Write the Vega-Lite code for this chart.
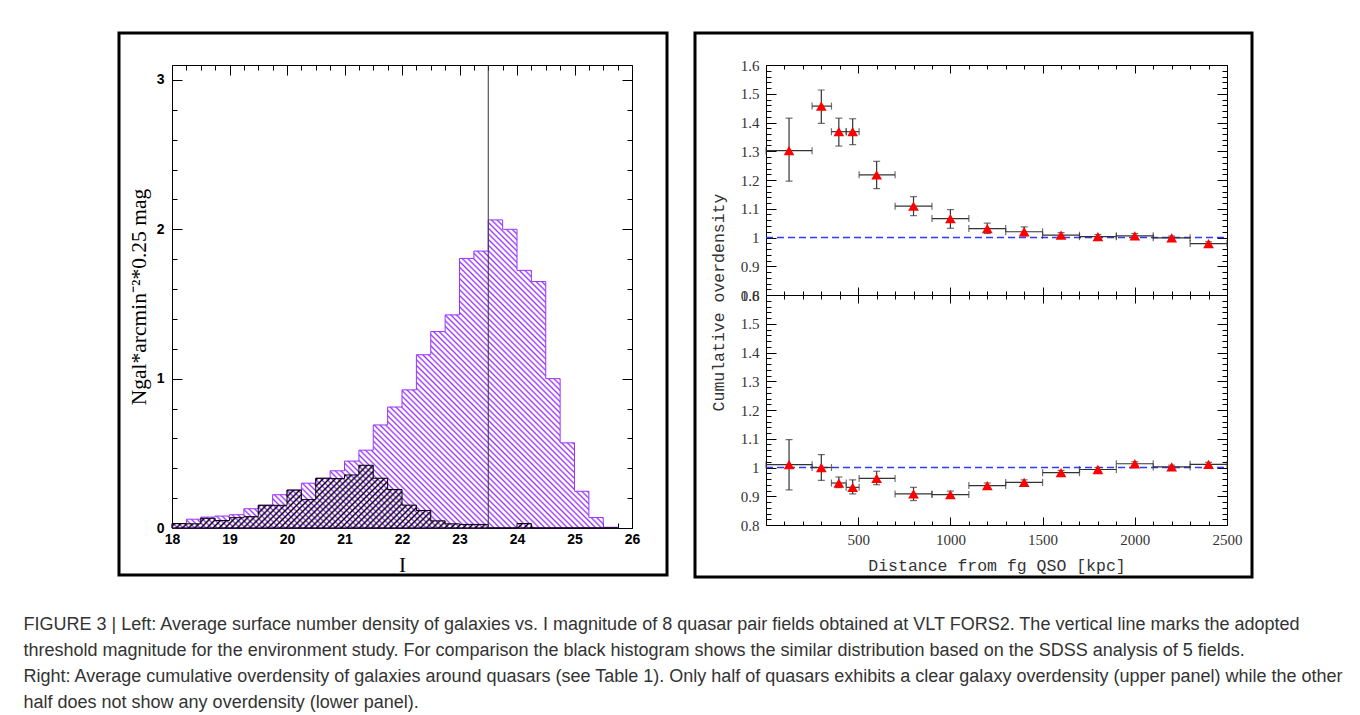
{
  "$schema": "https://vega.github.io/schema/vega-lite/v6.json",
  "background": "white",
  "padding": {"left": 23, "top": 31, "right": 5, "bottom": 5},
  "spacing": 24,
  "datasets": {
    "hist": [
      {"I": 18, "vlt": 0.028, "sdss": 0.03},
      {"I": 18.25, "vlt": 0.059, "sdss": 0.028},
      {"I": 18.5, "vlt": 0.073, "sdss": 0.065},
      {"I": 18.75, "vlt": 0.08, "sdss": 0.05},
      {"I": 19, "vlt": 0.089, "sdss": 0.069},
      {"I": 19.25, "vlt": 0.129, "sdss": 0.076},
      {"I": 19.5, "vlt": 0.153, "sdss": 0.152},
      {"I": 19.75, "vlt": 0.223, "sdss": 0.152},
      {"I": 20, "vlt": 0.254, "sdss": 0.254},
      {"I": 20.25, "vlt": 0.3, "sdss": 0.19},
      {"I": 20.5, "vlt": 0.333, "sdss": 0.333},
      {"I": 20.75, "vlt": 0.383, "sdss": 0.331},
      {"I": 21, "vlt": 0.448, "sdss": 0.355},
      {"I": 21.25, "vlt": 0.521, "sdss": 0.42},
      {"I": 21.5, "vlt": 0.69, "sdss": 0.333},
      {"I": 21.75, "vlt": 0.81, "sdss": 0.258},
      {"I": 22, "vlt": 0.925, "sdss": 0.153},
      {"I": 22.25, "vlt": 1.16, "sdss": 0.117},
      {"I": 22.5, "vlt": 1.315, "sdss": 0.048},
      {"I": 22.75, "vlt": 1.427, "sdss": 0.028},
      {"I": 23, "vlt": 1.805, "sdss": 0.024},
      {"I": 23.25, "vlt": 1.854, "sdss": 0.024},
      {"I": 23.5, "vlt": 2.063, "sdss": 0},
      {"I": 23.75, "vlt": 2.0, "sdss": 0},
      {"I": 24, "vlt": 1.725, "sdss": 0.03},
      {"I": 24.25, "vlt": 1.65, "sdss": 0},
      {"I": 24.5, "vlt": 1.0, "sdss": 0},
      {"I": 24.75, "vlt": 0.57, "sdss": 0},
      {"I": 25, "vlt": 0.246, "sdss": 0},
      {"I": 25.25, "vlt": 0.07, "sdss": 0},
      {"I": 25.5, "vlt": 0.005, "sdss": 0},
      {"I": 25.75, "vlt": 0.005, "sdss": 0}
    ],
    "upper": [
      {"x": 125, "xlo": 0, "xhi": 250, "y": 1.302, "ylo": 1.196, "yhi": 1.415},
      {"x": 300, "xlo": 250, "xhi": 355, "y": 1.457, "ylo": 1.397, "yhi": 1.513},
      {"x": 395, "xlo": 355, "xhi": 435, "y": 1.368, "ylo": 1.318, "yhi": 1.415},
      {"x": 470, "xlo": 435, "xhi": 505, "y": 1.368, "ylo": 1.323, "yhi": 1.413},
      {"x": 600, "xlo": 505, "xhi": 700, "y": 1.218, "ylo": 1.17, "yhi": 1.265},
      {"x": 800, "xlo": 700, "xhi": 900, "y": 1.109, "ylo": 1.076, "yhi": 1.142},
      {"x": 1000, "xlo": 900, "xhi": 1100, "y": 1.066, "ylo": 1.032, "yhi": 1.097},
      {"x": 1200, "xlo": 1100, "xhi": 1300, "y": 1.031, "ylo": 1.014, "yhi": 1.05},
      {"x": 1400, "xlo": 1300, "xhi": 1500, "y": 1.02, "ylo": 1.006, "yhi": 1.037},
      {"x": 1600, "xlo": 1500, "xhi": 1700, "y": 1.008, "ylo": 0.999, "yhi": 1.017},
      {"x": 1800, "xlo": 1700, "xhi": 1900, "y": 1.003, "ylo": 0.996, "yhi": 1.01},
      {"x": 2000, "xlo": 1900, "xhi": 2100, "y": 1.006, "ylo": 0.998, "yhi": 1.014},
      {"x": 2200, "xlo": 2100, "xhi": 2300, "y": 0.999, "ylo": 0.993, "yhi": 1.005},
      {"x": 2400, "xlo": 2300, "xhi": 2500, "y": 0.979, "ylo": 0.973, "yhi": 0.985}
    ],
    "lower": [
      {"x": 125, "xlo": 0, "xhi": 250, "y": 1.01, "ylo": 0.922, "yhi": 1.097},
      {"x": 300, "xlo": 250, "xhi": 355, "y": 1.0, "ylo": 0.955, "yhi": 1.045},
      {"x": 395, "xlo": 355, "xhi": 435, "y": 0.946, "ylo": 0.93, "yhi": 0.967},
      {"x": 470, "xlo": 435, "xhi": 505, "y": 0.931, "ylo": 0.908, "yhi": 0.957},
      {"x": 600, "xlo": 505, "xhi": 700, "y": 0.962, "ylo": 0.94, "yhi": 0.987},
      {"x": 800, "xlo": 700, "xhi": 900, "y": 0.908, "ylo": 0.885, "yhi": 0.931},
      {"x": 1000, "xlo": 900, "xhi": 1100, "y": 0.906, "ylo": 0.896, "yhi": 0.918},
      {"x": 1200, "xlo": 1100, "xhi": 1300, "y": 0.937, "ylo": 0.928, "yhi": 0.946},
      {"x": 1400, "xlo": 1300, "xhi": 1500, "y": 0.948, "ylo": 0.94, "yhi": 0.957},
      {"x": 1600, "xlo": 1500, "xhi": 1700, "y": 0.982, "ylo": 0.974, "yhi": 0.99},
      {"x": 1800, "xlo": 1700, "xhi": 1900, "y": 0.993, "ylo": 0.986, "yhi": 1.0},
      {"x": 2000, "xlo": 1900, "xhi": 2100, "y": 1.013, "ylo": 1.006, "yhi": 1.02},
      {"x": 2200, "xlo": 2100, "xhi": 2300, "y": 1.002, "ylo": 0.996, "yhi": 1.008},
      {"x": 2400, "xlo": 2300, "xhi": 2500, "y": 1.011, "ylo": 1.004, "yhi": 1.018}
    ]
  },
  "title": {
    "text": [
      "FIGURE 3 | Left: Average surface number density of galaxies vs. I magnitude of 8 quasar pair fields obtained at VLT FORS2. The vertical line marks the adopted",
      "threshold magnitude for the environment study. For comparison the black histogram shows the similar distribution based on the SDSS analysis of 5 fields.",
      "Right: Average cumulative overdensity of galaxies around quasars (see Table 1). Only half of quasars exhibits a clear galaxy overdensity (upper panel) while the other",
      "half does not show any overdensity (lower panel)."
    ],
    "orient": "bottom",
    "anchor": "start",
    "dx": -94,
    "offset": 37,
    "font": "Liberation Sans",
    "fontSize": 18,
    "fontWeight": "normal",
    "color": "#333333",
    "lineHeight": 26,
    "baseline": "top"
  },
  "hconcat": [
    {
      "width": 548,
      "height": 542,
      "data": {"name": "hist"},
      "resolve": {"axis": {"x": "independent", "y": "independent"}},
      "layer": [
        {
          "mark": {
            "type": "area", "interpolate": "step-after", "stroke": "#9933ff", "strokeWidth": 1,
            "fill": {
              "gradient": "linear", "x1": 0, "y1": 1, "x2": 1.1445, "y2": 0.209,
              "stops": [
                {"offset":0,"color":"#93f"},{"offset":0.0025,"color":"#fff"},{"offset":0.005,"color":"#fff"},{"offset":0.0075,"color":"#93f"},{"offset":0.01,"color":"#fff"},{"offset":0.0125,"color":"#fff"},{"offset":0.015,"color":"#93f"},{"offset":0.0175,"color":"#fff"},{"offset":0.02,"color":"#fff"},{"offset":0.0225,"color":"#93f"},{"offset":0.025,"color":"#fff"},{"offset":0.0275,"color":"#fff"},
                {"offset":0.03,"color":"#93f"},{"offset":0.0325,"color":"#fff"},{"offset":0.035,"color":"#fff"},{"offset":0.0375,"color":"#93f"},{"offset":0.04,"color":"#fff"},{"offset":0.0425,"color":"#fff"},{"offset":0.045,"color":"#93f"},{"offset":0.0475,"color":"#fff"},{"offset":0.05,"color":"#fff"},{"offset":0.0525,"color":"#93f"},{"offset":0.055,"color":"#fff"},{"offset":0.0575,"color":"#fff"},
                {"offset":0.06,"color":"#93f"},{"offset":0.0625,"color":"#fff"},{"offset":0.065,"color":"#fff"},{"offset":0.0675,"color":"#93f"},{"offset":0.07,"color":"#fff"},{"offset":0.0725,"color":"#fff"},{"offset":0.075,"color":"#93f"},{"offset":0.0775,"color":"#fff"},{"offset":0.08,"color":"#fff"},{"offset":0.0825,"color":"#93f"},{"offset":0.085,"color":"#fff"},{"offset":0.0875,"color":"#fff"},
                {"offset":0.09,"color":"#93f"},{"offset":0.0925,"color":"#fff"},{"offset":0.095,"color":"#fff"},{"offset":0.0975,"color":"#93f"},{"offset":0.1,"color":"#fff"},{"offset":0.1025,"color":"#fff"},{"offset":0.105,"color":"#93f"},{"offset":0.1075,"color":"#fff"},{"offset":0.11,"color":"#fff"},{"offset":0.1125,"color":"#93f"},{"offset":0.115,"color":"#fff"},{"offset":0.1175,"color":"#fff"},
                {"offset":0.12,"color":"#93f"},{"offset":0.1225,"color":"#fff"},{"offset":0.125,"color":"#fff"},{"offset":0.1275,"color":"#93f"},{"offset":0.13,"color":"#fff"},{"offset":0.1325,"color":"#fff"},{"offset":0.135,"color":"#93f"},{"offset":0.1375,"color":"#fff"},{"offset":0.14,"color":"#fff"},{"offset":0.1425,"color":"#93f"},{"offset":0.145,"color":"#fff"},{"offset":0.1475,"color":"#fff"},
                {"offset":0.15,"color":"#93f"},{"offset":0.1525,"color":"#fff"},{"offset":0.155,"color":"#fff"},{"offset":0.1575,"color":"#93f"},{"offset":0.16,"color":"#fff"},{"offset":0.1625,"color":"#fff"},{"offset":0.165,"color":"#93f"},{"offset":0.1675,"color":"#fff"},{"offset":0.17,"color":"#fff"},{"offset":0.1725,"color":"#93f"},{"offset":0.175,"color":"#fff"},{"offset":0.1775,"color":"#fff"},
                {"offset":0.18,"color":"#93f"},{"offset":0.1825,"color":"#fff"},{"offset":0.185,"color":"#fff"},{"offset":0.1875,"color":"#93f"},{"offset":0.19,"color":"#fff"},{"offset":0.1925,"color":"#fff"},{"offset":0.195,"color":"#93f"},{"offset":0.1975,"color":"#fff"},{"offset":0.2,"color":"#fff"},{"offset":0.2025,"color":"#93f"},{"offset":0.205,"color":"#fff"},{"offset":0.2075,"color":"#fff"},
                {"offset":0.21,"color":"#93f"},{"offset":0.2125,"color":"#fff"},{"offset":0.215,"color":"#fff"},{"offset":0.2175,"color":"#93f"},{"offset":0.22,"color":"#fff"},{"offset":0.2225,"color":"#fff"},{"offset":0.225,"color":"#93f"},{"offset":0.2275,"color":"#fff"},{"offset":0.23,"color":"#fff"},{"offset":0.2325,"color":"#93f"},{"offset":0.235,"color":"#fff"},{"offset":0.2375,"color":"#fff"},
                {"offset":0.24,"color":"#93f"},{"offset":0.2425,"color":"#fff"},{"offset":0.245,"color":"#fff"},{"offset":0.2475,"color":"#93f"},{"offset":0.25,"color":"#fff"},{"offset":0.2525,"color":"#fff"},{"offset":0.255,"color":"#93f"},{"offset":0.2575,"color":"#fff"},{"offset":0.26,"color":"#fff"},{"offset":0.2625,"color":"#93f"},{"offset":0.265,"color":"#fff"},{"offset":0.2675,"color":"#fff"},
                {"offset":0.27,"color":"#93f"},{"offset":0.2725,"color":"#fff"},{"offset":0.275,"color":"#fff"},{"offset":0.2775,"color":"#93f"},{"offset":0.28,"color":"#fff"},{"offset":0.2825,"color":"#fff"},{"offset":0.285,"color":"#93f"},{"offset":0.2875,"color":"#fff"},{"offset":0.29,"color":"#fff"},{"offset":0.2925,"color":"#93f"},{"offset":0.295,"color":"#fff"},{"offset":0.2975,"color":"#fff"},
                {"offset":0.3,"color":"#93f"},{"offset":0.3025,"color":"#fff"},{"offset":0.305,"color":"#fff"},{"offset":0.3075,"color":"#93f"},{"offset":0.31,"color":"#fff"},{"offset":0.3125,"color":"#fff"},{"offset":0.315,"color":"#93f"},{"offset":0.3175,"color":"#fff"},{"offset":0.32,"color":"#fff"},{"offset":0.3225,"color":"#93f"},{"offset":0.325,"color":"#fff"},{"offset":0.3275,"color":"#fff"},
                {"offset":0.33,"color":"#93f"},{"offset":0.3325,"color":"#fff"},{"offset":0.335,"color":"#fff"},{"offset":0.3375,"color":"#93f"},{"offset":0.34,"color":"#fff"},{"offset":0.3425,"color":"#fff"},{"offset":0.345,"color":"#93f"},{"offset":0.3475,"color":"#fff"},{"offset":0.35,"color":"#fff"},{"offset":0.3525,"color":"#93f"},{"offset":0.355,"color":"#fff"},{"offset":0.3575,"color":"#fff"},
                {"offset":0.36,"color":"#93f"},{"offset":0.3625,"color":"#fff"},{"offset":0.365,"color":"#fff"},{"offset":0.3675,"color":"#93f"},{"offset":0.37,"color":"#fff"},{"offset":0.3725,"color":"#fff"},{"offset":0.375,"color":"#93f"},{"offset":0.3775,"color":"#fff"},{"offset":0.38,"color":"#fff"},{"offset":0.3825,"color":"#93f"},{"offset":0.385,"color":"#fff"},{"offset":0.3875,"color":"#fff"},
                {"offset":0.39,"color":"#93f"},{"offset":0.3925,"color":"#fff"},{"offset":0.395,"color":"#fff"},{"offset":0.3975,"color":"#93f"},{"offset":0.4,"color":"#fff"},{"offset":0.4025,"color":"#fff"},{"offset":0.405,"color":"#93f"},{"offset":0.4075,"color":"#fff"},{"offset":0.41,"color":"#fff"},{"offset":0.4125,"color":"#93f"},{"offset":0.415,"color":"#fff"},{"offset":0.4175,"color":"#fff"},
                {"offset":0.42,"color":"#93f"},{"offset":0.4225,"color":"#fff"},{"offset":0.425,"color":"#fff"},{"offset":0.4275,"color":"#93f"},{"offset":0.43,"color":"#fff"},{"offset":0.4325,"color":"#fff"},{"offset":0.435,"color":"#93f"},{"offset":0.4375,"color":"#fff"},{"offset":0.44,"color":"#fff"},{"offset":0.4425,"color":"#93f"},{"offset":0.445,"color":"#fff"},{"offset":0.4475,"color":"#fff"},
                {"offset":0.45,"color":"#93f"},{"offset":0.4525,"color":"#fff"},{"offset":0.455,"color":"#fff"},{"offset":0.4575,"color":"#93f"},{"offset":0.46,"color":"#fff"},{"offset":0.4625,"color":"#fff"},{"offset":0.465,"color":"#93f"},{"offset":0.4675,"color":"#fff"},{"offset":0.47,"color":"#fff"},{"offset":0.4725,"color":"#93f"},{"offset":0.475,"color":"#fff"},{"offset":0.4775,"color":"#fff"},
                {"offset":0.48,"color":"#93f"},{"offset":0.4825,"color":"#fff"},{"offset":0.485,"color":"#fff"},{"offset":0.4875,"color":"#93f"},{"offset":0.49,"color":"#fff"},{"offset":0.4925,"color":"#fff"},{"offset":0.495,"color":"#93f"},{"offset":0.4975,"color":"#fff"},{"offset":0.5,"color":"#fff"},{"offset":0.5025,"color":"#93f"},{"offset":0.505,"color":"#fff"},{"offset":0.5075,"color":"#fff"},
                {"offset":0.51,"color":"#93f"},{"offset":0.5125,"color":"#fff"},{"offset":0.515,"color":"#fff"},{"offset":0.5175,"color":"#93f"},{"offset":0.52,"color":"#fff"},{"offset":0.5225,"color":"#fff"},{"offset":0.525,"color":"#93f"},{"offset":0.5275,"color":"#fff"},{"offset":0.53,"color":"#fff"},{"offset":0.5325,"color":"#93f"},{"offset":0.535,"color":"#fff"},{"offset":0.5375,"color":"#fff"},
                {"offset":0.54,"color":"#93f"},{"offset":0.5425,"color":"#fff"},{"offset":0.545,"color":"#fff"},{"offset":0.5475,"color":"#93f"},{"offset":0.55,"color":"#fff"},{"offset":0.5525,"color":"#fff"},{"offset":0.555,"color":"#93f"},{"offset":0.5575,"color":"#fff"},{"offset":0.56,"color":"#fff"},{"offset":0.5625,"color":"#93f"},{"offset":0.565,"color":"#fff"},{"offset":0.5675,"color":"#fff"},
                {"offset":0.57,"color":"#93f"},{"offset":0.5725,"color":"#fff"},{"offset":0.575,"color":"#fff"},{"offset":0.5775,"color":"#93f"},{"offset":0.58,"color":"#fff"},{"offset":0.5825,"color":"#fff"},{"offset":0.585,"color":"#93f"},{"offset":0.5875,"color":"#fff"},{"offset":0.59,"color":"#fff"},{"offset":0.5925,"color":"#93f"},{"offset":0.595,"color":"#fff"},{"offset":0.5975,"color":"#fff"},
                {"offset":0.6,"color":"#93f"},{"offset":0.6025,"color":"#fff"},{"offset":0.605,"color":"#fff"},{"offset":0.6075,"color":"#93f"},{"offset":0.61,"color":"#fff"},{"offset":0.6125,"color":"#fff"},{"offset":0.615,"color":"#93f"},{"offset":0.6175,"color":"#fff"},{"offset":0.62,"color":"#fff"},{"offset":0.6225,"color":"#93f"},{"offset":0.625,"color":"#fff"},{"offset":0.6275,"color":"#fff"},
                {"offset":0.63,"color":"#93f"},{"offset":0.6325,"color":"#fff"},{"offset":0.635,"color":"#fff"},{"offset":0.6375,"color":"#93f"},{"offset":0.64,"color":"#fff"},{"offset":0.6425,"color":"#fff"},{"offset":0.645,"color":"#93f"},{"offset":0.6475,"color":"#fff"},{"offset":0.65,"color":"#fff"},{"offset":0.6525,"color":"#93f"},{"offset":0.655,"color":"#fff"},{"offset":0.6575,"color":"#fff"},
                {"offset":0.66,"color":"#93f"},{"offset":0.6625,"color":"#fff"},{"offset":0.665,"color":"#fff"},{"offset":0.6675,"color":"#93f"},{"offset":0.67,"color":"#fff"},{"offset":0.6725,"color":"#fff"},{"offset":0.675,"color":"#93f"},{"offset":0.6775,"color":"#fff"},{"offset":0.68,"color":"#fff"},{"offset":0.6825,"color":"#93f"},{"offset":0.685,"color":"#fff"},{"offset":0.6875,"color":"#fff"},
                {"offset":0.69,"color":"#93f"},{"offset":0.6925,"color":"#fff"},{"offset":0.695,"color":"#fff"},{"offset":0.6975,"color":"#93f"},{"offset":0.7,"color":"#fff"},{"offset":0.7025,"color":"#fff"},{"offset":0.705,"color":"#93f"},{"offset":0.7075,"color":"#fff"},{"offset":0.71,"color":"#fff"},{"offset":0.7125,"color":"#93f"},{"offset":0.715,"color":"#fff"},{"offset":0.7175,"color":"#fff"},
                {"offset":0.72,"color":"#93f"},{"offset":0.7225,"color":"#fff"},{"offset":0.725,"color":"#fff"},{"offset":0.7275,"color":"#93f"},{"offset":0.73,"color":"#fff"},{"offset":0.7325,"color":"#fff"},{"offset":0.735,"color":"#93f"},{"offset":0.7375,"color":"#fff"},{"offset":0.74,"color":"#fff"},{"offset":0.7425,"color":"#93f"},{"offset":0.745,"color":"#fff"},{"offset":0.7475,"color":"#fff"},
                {"offset":0.75,"color":"#93f"},{"offset":0.7525,"color":"#fff"},{"offset":0.755,"color":"#fff"},{"offset":0.7575,"color":"#93f"},{"offset":0.76,"color":"#fff"},{"offset":0.7625,"color":"#fff"},{"offset":0.765,"color":"#93f"},{"offset":0.7675,"color":"#fff"},{"offset":0.77,"color":"#fff"},{"offset":0.7725,"color":"#93f"},{"offset":0.775,"color":"#fff"},{"offset":0.7775,"color":"#fff"},
                {"offset":0.78,"color":"#93f"},{"offset":0.7825,"color":"#fff"},{"offset":0.785,"color":"#fff"},{"offset":0.7875,"color":"#93f"},{"offset":0.79,"color":"#fff"},{"offset":0.7925,"color":"#fff"},{"offset":0.795,"color":"#93f"},{"offset":0.7975,"color":"#fff"},{"offset":0.8,"color":"#fff"},{"offset":0.8025,"color":"#93f"},{"offset":0.805,"color":"#fff"},{"offset":0.8075,"color":"#fff"},
                {"offset":0.81,"color":"#93f"},{"offset":0.8125,"color":"#fff"},{"offset":0.815,"color":"#fff"},{"offset":0.8175,"color":"#93f"},{"offset":0.82,"color":"#fff"},{"offset":0.8225,"color":"#fff"},{"offset":0.825,"color":"#93f"},{"offset":0.8275,"color":"#fff"},{"offset":0.83,"color":"#fff"},{"offset":0.8325,"color":"#93f"},{"offset":0.835,"color":"#fff"},{"offset":0.8375,"color":"#fff"},
                {"offset":0.84,"color":"#93f"},{"offset":0.8425,"color":"#fff"},{"offset":0.845,"color":"#fff"},{"offset":0.8475,"color":"#93f"},{"offset":0.85,"color":"#fff"},{"offset":0.8525,"color":"#fff"},{"offset":0.855,"color":"#93f"},{"offset":0.8575,"color":"#fff"},{"offset":0.86,"color":"#fff"},{"offset":0.8625,"color":"#93f"},{"offset":0.865,"color":"#fff"},{"offset":0.8675,"color":"#fff"},
                {"offset":0.87,"color":"#93f"},{"offset":0.8725,"color":"#fff"},{"offset":0.875,"color":"#fff"},{"offset":0.8775,"color":"#93f"},{"offset":0.88,"color":"#fff"},{"offset":0.8825,"color":"#fff"},{"offset":0.885,"color":"#93f"},{"offset":0.8875,"color":"#fff"},{"offset":0.89,"color":"#fff"},{"offset":0.8925,"color":"#93f"},{"offset":0.895,"color":"#fff"},{"offset":0.8975,"color":"#fff"},
                {"offset":0.9,"color":"#93f"},{"offset":0.9025,"color":"#fff"},{"offset":0.905,"color":"#fff"},{"offset":0.9075,"color":"#93f"},{"offset":0.91,"color":"#fff"},{"offset":0.9125,"color":"#fff"},{"offset":0.915,"color":"#93f"},{"offset":0.9175,"color":"#fff"},{"offset":0.92,"color":"#fff"},{"offset":0.9225,"color":"#93f"},{"offset":0.925,"color":"#fff"},{"offset":0.9275,"color":"#fff"},
                {"offset":0.93,"color":"#93f"},{"offset":0.9325,"color":"#fff"},{"offset":0.935,"color":"#fff"},{"offset":0.9375,"color":"#93f"},{"offset":0.94,"color":"#fff"},{"offset":0.9425,"color":"#fff"},{"offset":0.945,"color":"#93f"},{"offset":0.9475,"color":"#fff"},{"offset":0.95,"color":"#fff"},{"offset":0.9525,"color":"#93f"},{"offset":0.955,"color":"#fff"},{"offset":0.9575,"color":"#fff"},
                {"offset":0.96,"color":"#93f"},{"offset":0.9625,"color":"#fff"},{"offset":0.965,"color":"#fff"},{"offset":0.9675,"color":"#93f"},{"offset":0.97,"color":"#fff"},{"offset":0.9725,"color":"#fff"},{"offset":0.975,"color":"#93f"},{"offset":0.9775,"color":"#fff"},{"offset":0.98,"color":"#fff"},{"offset":0.9825,"color":"#93f"},{"offset":0.985,"color":"#fff"},{"offset":0.9875,"color":"#fff"},
                {"offset":0.99,"color":"#93f"},{"offset":0.9925,"color":"#fff"},{"offset":0.995,"color":"#fff"},{"offset":0.9975,"color":"#93f"},{"offset":1,"color":"#fff"}
              ]
            }
          },
          "encoding": {
            "x": {
              "field": "I", "type": "quantitative",
              "scale": {"domain": [18, 26], "range": [53, 513], "nice": false, "zero": false},
              "axis": {
                "orient": "bottom", "offset": -47,
                "values": [18,18.25,18.5,18.75,19,19.25,19.5,19.75,20,20.25,20.5,20.75,21,21.25,21.5,21.75,22,22.25,22.5,22.75,23,23.25,23.5,23.75,24,24.25,24.5,24.75,25,25.25,25.5,25.75,26],
                "tickSize": {"condition": {"test": "datum.value % 1 === 0", "value": -10}, "value": -5},
                "labelExpr": "datum.value % 1 === 0 ? datum.value + '' : ''",
                "labelPadding": 14, "labelFont": "Liberation Sans", "labelFontWeight": "bold", "labelFontSize": 14,
                "title": "I", "titleFont": "Liberation Serif", "titleFontSize": 21, "titleFontWeight": "normal", "titlePadding": 3
              }
            },
            "y": {
              "field": "vlt", "type": "quantitative",
              "scale": {"domain": [0, 3.1], "range": [495, 32], "nice": false},
              "axis": {
                "orient": "left", "offset": -53,
                "values": [0,0.2,0.4,0.6,0.8,1,1.2,1.4,1.6,1.8,2,2.2,2.4,2.6,2.8,3],
                "tickSize": {"condition": {"test": "datum.value % 1 === 0", "value": -10}, "value": -5},
                "labelExpr": "datum.value % 1 === 0 ? datum.value + '' : ''",
                "labelPadding": 18, "labelFont": "Liberation Sans", "labelFontWeight": "bold", "labelFontSize": 14,
                "title": "Ngal*arcmin⁻²*0.25 mag", "titleFont": "Liberation Serif", "titleFontSize": 21.5, "titleFontWeight": "normal", "titlePadding": 6
              }
            }
          }
        },
        {
          "mark": {
            "type": "area", "interpolate": "step-after", "stroke": "#000000", "strokeWidth": 1,
            "fill": {
              "gradient": "linear", "x1": 0, "y1": 0, "x2": 1.1185, "y2": 0.1574,
              "stops": [
                {"offset":0,"color":"#000"},{"offset":0.004,"color":"transparent"},{"offset":0.008,"color":"transparent"},{"offset":0.012,"color":"#000"},{"offset":0.016,"color":"transparent"},{"offset":0.02,"color":"transparent"},{"offset":0.024,"color":"#000"},{"offset":0.028,"color":"transparent"},{"offset":0.032,"color":"transparent"},{"offset":0.036,"color":"#000"},{"offset":0.04,"color":"transparent"},{"offset":0.044,"color":"transparent"},
                {"offset":0.048,"color":"#000"},{"offset":0.052,"color":"transparent"},{"offset":0.056,"color":"transparent"},{"offset":0.06,"color":"#000"},{"offset":0.064,"color":"transparent"},{"offset":0.068,"color":"transparent"},{"offset":0.072,"color":"#000"},{"offset":0.076,"color":"transparent"},{"offset":0.08,"color":"transparent"},{"offset":0.084,"color":"#000"},{"offset":0.088,"color":"transparent"},{"offset":0.092,"color":"transparent"},
                {"offset":0.096,"color":"#000"},{"offset":0.1,"color":"transparent"},{"offset":0.104,"color":"transparent"},{"offset":0.108,"color":"#000"},{"offset":0.112,"color":"transparent"},{"offset":0.116,"color":"transparent"},{"offset":0.12,"color":"#000"},{"offset":0.124,"color":"transparent"},{"offset":0.128,"color":"transparent"},{"offset":0.132,"color":"#000"},{"offset":0.136,"color":"transparent"},{"offset":0.14,"color":"transparent"},
                {"offset":0.144,"color":"#000"},{"offset":0.148,"color":"transparent"},{"offset":0.152,"color":"transparent"},{"offset":0.156,"color":"#000"},{"offset":0.16,"color":"transparent"},{"offset":0.164,"color":"transparent"},{"offset":0.168,"color":"#000"},{"offset":0.172,"color":"transparent"},{"offset":0.176,"color":"transparent"},{"offset":0.18,"color":"#000"},{"offset":0.184,"color":"transparent"},{"offset":0.188,"color":"transparent"},
                {"offset":0.192,"color":"#000"},{"offset":0.196,"color":"transparent"},{"offset":0.2,"color":"transparent"},{"offset":0.204,"color":"#000"},{"offset":0.208,"color":"transparent"},{"offset":0.212,"color":"transparent"},{"offset":0.216,"color":"#000"},{"offset":0.22,"color":"transparent"},{"offset":0.224,"color":"transparent"},{"offset":0.228,"color":"#000"},{"offset":0.232,"color":"transparent"},{"offset":0.236,"color":"transparent"},
                {"offset":0.24,"color":"#000"},{"offset":0.244,"color":"transparent"},{"offset":0.248,"color":"transparent"},{"offset":0.252,"color":"#000"},{"offset":0.256,"color":"transparent"},{"offset":0.26,"color":"transparent"},{"offset":0.264,"color":"#000"},{"offset":0.268,"color":"transparent"},{"offset":0.272,"color":"transparent"},{"offset":0.276,"color":"#000"},{"offset":0.28,"color":"transparent"},{"offset":0.284,"color":"transparent"},
                {"offset":0.288,"color":"#000"},{"offset":0.292,"color":"transparent"},{"offset":0.296,"color":"transparent"},{"offset":0.3,"color":"#000"},{"offset":0.304,"color":"transparent"},{"offset":0.308,"color":"transparent"},{"offset":0.312,"color":"#000"},{"offset":0.316,"color":"transparent"},{"offset":0.32,"color":"transparent"},{"offset":0.324,"color":"#000"},{"offset":0.328,"color":"transparent"},{"offset":0.332,"color":"transparent"},
                {"offset":0.336,"color":"#000"},{"offset":0.34,"color":"transparent"},{"offset":0.344,"color":"transparent"},{"offset":0.348,"color":"#000"},{"offset":0.352,"color":"transparent"},{"offset":0.356,"color":"transparent"},{"offset":0.36,"color":"#000"},{"offset":0.364,"color":"transparent"},{"offset":0.368,"color":"transparent"},{"offset":0.372,"color":"#000"},{"offset":0.376,"color":"transparent"},{"offset":0.38,"color":"transparent"},
                {"offset":0.384,"color":"#000"},{"offset":0.388,"color":"transparent"},{"offset":0.392,"color":"transparent"},{"offset":0.396,"color":"#000"},{"offset":0.4,"color":"transparent"},{"offset":0.404,"color":"transparent"},{"offset":0.408,"color":"#000"},{"offset":0.412,"color":"transparent"},{"offset":0.416,"color":"transparent"},{"offset":0.42,"color":"#000"},{"offset":0.424,"color":"transparent"},{"offset":0.428,"color":"transparent"},
                {"offset":0.432,"color":"#000"},{"offset":0.436,"color":"transparent"},{"offset":0.44,"color":"transparent"},{"offset":0.444,"color":"#000"},{"offset":0.448,"color":"transparent"},{"offset":0.452,"color":"transparent"},{"offset":0.456,"color":"#000"},{"offset":0.46,"color":"transparent"},{"offset":0.464,"color":"transparent"},{"offset":0.468,"color":"#000"},{"offset":0.472,"color":"transparent"},{"offset":0.476,"color":"transparent"},
                {"offset":0.48,"color":"#000"},{"offset":0.484,"color":"transparent"},{"offset":0.488,"color":"transparent"},{"offset":0.492,"color":"#000"},{"offset":0.496,"color":"transparent"},{"offset":0.5,"color":"transparent"},{"offset":0.504,"color":"#000"},{"offset":0.508,"color":"transparent"},{"offset":0.512,"color":"transparent"},{"offset":0.516,"color":"#000"},{"offset":0.52,"color":"transparent"},{"offset":0.524,"color":"transparent"},
                {"offset":0.528,"color":"#000"},{"offset":0.532,"color":"transparent"},{"offset":0.536,"color":"transparent"},{"offset":0.54,"color":"#000"},{"offset":0.544,"color":"transparent"},{"offset":0.548,"color":"transparent"},{"offset":0.552,"color":"#000"},{"offset":0.556,"color":"transparent"},{"offset":0.56,"color":"transparent"},{"offset":0.564,"color":"#000"},{"offset":0.568,"color":"transparent"},{"offset":0.572,"color":"transparent"},
                {"offset":0.576,"color":"#000"},{"offset":0.58,"color":"transparent"},{"offset":0.584,"color":"transparent"},{"offset":0.588,"color":"#000"},{"offset":0.592,"color":"transparent"},{"offset":0.596,"color":"transparent"},{"offset":0.6,"color":"#000"},{"offset":0.604,"color":"transparent"},{"offset":0.608,"color":"transparent"},{"offset":0.612,"color":"#000"},{"offset":0.616,"color":"transparent"},{"offset":0.62,"color":"transparent"},
                {"offset":0.624,"color":"#000"},{"offset":0.628,"color":"transparent"},{"offset":0.632,"color":"transparent"},{"offset":0.636,"color":"#000"},{"offset":0.64,"color":"transparent"},{"offset":0.644,"color":"transparent"},{"offset":0.648,"color":"#000"},{"offset":0.652,"color":"transparent"},{"offset":0.656,"color":"transparent"},{"offset":0.66,"color":"#000"},{"offset":0.664,"color":"transparent"},{"offset":0.668,"color":"transparent"},
                {"offset":0.672,"color":"#000"},{"offset":0.676,"color":"transparent"},{"offset":0.68,"color":"transparent"},{"offset":0.684,"color":"#000"},{"offset":0.688,"color":"transparent"},{"offset":0.692,"color":"transparent"},{"offset":0.696,"color":"#000"},{"offset":0.7,"color":"transparent"},{"offset":0.704,"color":"transparent"},{"offset":0.708,"color":"#000"},{"offset":0.712,"color":"transparent"},{"offset":0.716,"color":"transparent"},
                {"offset":0.72,"color":"#000"},{"offset":0.724,"color":"transparent"},{"offset":0.728,"color":"transparent"},{"offset":0.732,"color":"#000"},{"offset":0.736,"color":"transparent"},{"offset":0.74,"color":"transparent"},{"offset":0.744,"color":"#000"},{"offset":0.748,"color":"transparent"},{"offset":0.752,"color":"transparent"},{"offset":0.756,"color":"#000"},{"offset":0.76,"color":"transparent"},{"offset":0.764,"color":"transparent"},
                {"offset":0.768,"color":"#000"},{"offset":0.772,"color":"transparent"},{"offset":0.776,"color":"transparent"},{"offset":0.78,"color":"#000"},{"offset":0.784,"color":"transparent"},{"offset":0.788,"color":"transparent"},{"offset":0.792,"color":"#000"},{"offset":0.796,"color":"transparent"},{"offset":0.8,"color":"transparent"},{"offset":0.804,"color":"#000"},{"offset":0.808,"color":"transparent"},{"offset":0.812,"color":"transparent"},
                {"offset":0.816,"color":"#000"},{"offset":0.82,"color":"transparent"},{"offset":0.824,"color":"transparent"},{"offset":0.828,"color":"#000"},{"offset":0.832,"color":"transparent"},{"offset":0.836,"color":"transparent"},{"offset":0.84,"color":"#000"},{"offset":0.844,"color":"transparent"},{"offset":0.848,"color":"transparent"},{"offset":0.852,"color":"#000"},{"offset":0.856,"color":"transparent"},{"offset":0.86,"color":"transparent"},
                {"offset":0.864,"color":"#000"},{"offset":0.868,"color":"transparent"},{"offset":0.872,"color":"transparent"},{"offset":0.876,"color":"#000"},{"offset":0.88,"color":"transparent"},{"offset":0.884,"color":"transparent"},{"offset":0.888,"color":"#000"},{"offset":0.892,"color":"transparent"},{"offset":0.896,"color":"transparent"},{"offset":0.9,"color":"#000"},{"offset":0.904,"color":"transparent"},{"offset":0.908,"color":"transparent"},
                {"offset":0.912,"color":"#000"},{"offset":0.916,"color":"transparent"},{"offset":0.92,"color":"transparent"},{"offset":0.924,"color":"#000"},{"offset":0.928,"color":"transparent"},{"offset":0.932,"color":"transparent"},{"offset":0.936,"color":"#000"},{"offset":0.94,"color":"transparent"},{"offset":0.944,"color":"transparent"},{"offset":0.948,"color":"#000"},{"offset":0.952,"color":"transparent"},{"offset":0.956,"color":"transparent"},
                {"offset":0.96,"color":"#000"},{"offset":0.964,"color":"transparent"},{"offset":0.968,"color":"transparent"},{"offset":0.972,"color":"#000"},{"offset":0.976,"color":"transparent"},{"offset":0.98,"color":"transparent"},{"offset":0.984,"color":"#000"},{"offset":0.988,"color":"transparent"},{"offset":0.992,"color":"transparent"},{"offset":0.996,"color":"#000"},{"offset":1,"color":"transparent"}
              ]
            }
          },
          "encoding": {
            "x": {
              "field": "I", "type": "quantitative",
              "axis": {
                "orient": "top", "offset": -32, "labels": false, "title": null,
                "values": [18,18.25,18.5,18.75,19,19.25,19.5,19.75,20,20.25,20.5,20.75,21,21.25,21.5,21.75,22,22.25,22.5,22.75,23,23.25,23.5,23.75,24,24.25,24.5,24.75,25,25.25,25.5,25.75,26],
                "tickSize": {"condition": {"test": "datum.value % 1 === 0", "value": -10}, "value": -5}
              }
            },
            "y": {
              "field": "sdss", "type": "quantitative",
              "axis": {
                "orient": "right", "offset": -35, "labels": false, "title": null,
                "values": [0,0.2,0.4,0.6,0.8,1,1.2,1.4,1.6,1.8,2,2.2,2.4,2.6,2.8,3],
                "tickSize": {"condition": {"test": "datum.value % 1 === 0", "value": -10}, "value": -5}
              }
            }
          }
        },
        {
          "data": {"values": [{}]},
          "mark": {"type": "rule", "stroke": "#333333", "strokeWidth": 1},
          "encoding": {
            "x": {"datum": 23.5, "type": "quantitative", "axis": null},
            "y": {"datum": 0, "type": "quantitative", "axis": null},
            "y2": {"datum": 3.1}
          }
        }
      ]
    },
    {
      "width": 557,
      "height": 544,
      "resolve": {"scale": {"y": "independent"}, "axis": {"x": "independent", "y": "independent"}},
      "layer": [
        {
          "data": {"name": "upper"},
          "resolve": {"axis": {"x": "independent", "y": "independent"}},
          "layer": [
            {
              "data": {"values": [{}]},
              "mark": {"type": "rule", "color": "#2f3bff", "stroke": "#2f3bff", "strokeDash": [7, 4], "strokeWidth": 1.3},
              "encoding": {
                "x": {
                  "datum": 0, "type": "quantitative",
                  "scale": {"domain": [0, 2500], "range": [71, 532], "nice": false, "zero": false},
                  "axis": {
                    "orient": "bottom", "offset": -282, "labels": false, "title": null,
                    "values": [0,100,200,300,400,500,600,700,800,900,1000,1100,1200,1300,1400,1500,1600,1700,1800,1900,2000,2100,2200,2300,2400,2500],
                    "tickSize": {"condition": {"test": "datum.value % 500 === 0", "value": -8}, "value": -4}
                  }
                },
                "x2": {"datum": 2500},
                "y": {
                  "datum": 1, "type": "quantitative",
                  "scale": {"domain": [0.8, 1.6], "range": [262, 32], "nice": false, "zero": false},
                  "axis": {
                    "orient": "left", "offset": -71,
                    "values": [0.8,0.82,0.84,0.86,0.88,0.9,0.92,0.94,0.96,0.98,1,1.02,1.04,1.06,1.08,1.1,1.12,1.14,1.16,1.18,1.2,1.22,1.24,1.26,1.28,1.3,1.32,1.34,1.36,1.38,1.4,1.42,1.44,1.46,1.48,1.5,1.52,1.54,1.56,1.58,1.6],
                    "tickSize": {"condition": {"test": "abs(datum.value * 10 - round(datum.value * 10)) < 0.001", "value": -10}, "value": -5},
                    "labelExpr": "abs(datum.value * 10 - round(datum.value * 10)) < 0.001 ? datum.value + '' : ''",
                    "labelPadding": 17, "labelFont": "Liberation Serif", "labelFontSize": 15, "labelColor": "#333333",
                    "title": "Cumulative overdensity", "titleFont": "Liberation Mono", "titleFontSize": 16.5, "titleFontWeight": "normal", "titleColor": "#333333",
                    "titleX": -48, "titleY": 269, "titleBaseline": "middle"
                  }
                }
              }
            },
            {
              "mark": {"type": "errorbar", "color": "#333333", "thickness": 1.2, "ticks": {"size": 7, "thickness": 1.2}},
              "encoding": {
                "x": {"field": "xlo", "type": "quantitative", "axis": null},
                "x2": {"field": "xhi"},
                "y": {"field": "y", "type": "quantitative", "axis": null}
              }
            },
            {
              "mark": {"type": "errorbar", "color": "#333333", "thickness": 1.2, "ticks": {"size": 7, "thickness": 1.2}},
              "encoding": {
                "x": {"field": "x", "type": "quantitative", "axis": null},
                "y": {"field": "ylo", "type": "quantitative", "axis": null},
                "y2": {"field": "yhi"}
              }
            },
            {
              "mark": {"type": "point", "shape": "triangle-up", "filled": true, "color": "#ff0000", "size": 115, "opacity": 1},
              "encoding": {
                "x": {
                  "field": "x", "type": "quantitative",
                  "axis": {
                    "orient": "top", "offset": -32, "labels": false, "title": null,
                    "values": [0,100,200,300,400,500,600,700,800,900,1000,1100,1200,1300,1400,1500,1600,1700,1800,1900,2000,2100,2200,2300,2400,2500],
                    "tickSize": {"condition": {"test": "datum.value % 500 === 0", "value": -8}, "value": -4}
                  }
                },
                "y": {
                  "field": "y", "type": "quantitative",
                  "axis": {
                    "orient": "right", "offset": -25, "labels": false, "title": null,
                    "values": [0.8,0.82,0.84,0.86,0.88,0.9,0.92,0.94,0.96,0.98,1,1.02,1.04,1.06,1.08,1.1,1.12,1.14,1.16,1.18,1.2,1.22,1.24,1.26,1.28,1.3,1.32,1.34,1.36,1.38,1.4,1.42,1.44,1.46,1.48,1.5,1.52,1.54,1.56,1.58,1.6],
                    "tickSize": {"condition": {"test": "abs(datum.value * 10 - round(datum.value * 10)) < 0.001", "value": -10}, "value": -5}
                  }
                }
              }
            }
          ]
        },
        {
          "data": {"name": "lower"},
          "resolve": {"axis": {"x": "independent", "y": "independent"}},
          "layer": [
            {
              "data": {"values": [{}]},
              "mark": {"type": "rule", "color": "#2f3bff", "stroke": "#2f3bff", "strokeDash": [7, 4], "strokeWidth": 1.3},
              "encoding": {
                "x": {
                  "datum": 0, "type": "quantitative",
                  "scale": {"domain": [0, 2500], "range": [71, 532], "nice": false, "zero": false},
                  "axis": {
                    "orient": "bottom", "offset": -52,
                    "values": [0,100,200,300,400,500,600,700,800,900,1000,1100,1200,1300,1400,1500,1600,1700,1800,1900,2000,2100,2200,2300,2400,2500],
                    "tickSize": {"condition": {"test": "datum.value % 500 === 0", "value": -8}, "value": -4},
                    "labelExpr": "datum.value % 500 === 0 && datum.value > 0 ? datum.value + '' : ''",
                    "labelPadding": 15, "labelFont": "Liberation Serif", "labelFontSize": 15, "labelColor": "#333333",
                    "title": "Distance from fg QSO [kpc]", "titleFont": "Liberation Mono", "titleFontSize": 16.5, "titleFontWeight": "normal", "titleColor": "#333333", "titlePadding": 6
                  }
                },
                "x2": {"datum": 2500},
                "y": {
                  "datum": 1, "type": "quantitative",
                  "scale": {"domain": [0.8, 1.6], "range": [492, 262], "nice": false, "zero": false},
                  "axis": {
                    "orient": "left", "offset": -71, "title": null,
                    "values": [0.8,0.82,0.84,0.86,0.88,0.9,0.92,0.94,0.96,0.98,1,1.02,1.04,1.06,1.08,1.1,1.12,1.14,1.16,1.18,1.2,1.22,1.24,1.26,1.28,1.3,1.32,1.34,1.36,1.38,1.4,1.42,1.44,1.46,1.48,1.5,1.52,1.54,1.56,1.58,1.6],
                    "tickSize": {"condition": {"test": "abs(datum.value * 10 - round(datum.value * 10)) < 0.001", "value": -10}, "value": -5},
                    "labelExpr": "abs(datum.value * 10 - round(datum.value * 10)) < 0.001 ? datum.value + '' : ''",
                    "labelPadding": 17, "labelFont": "Liberation Serif", "labelFontSize": 15, "labelColor": "#333333"
                  }
                }
              }
            },
            {
              "mark": {"type": "errorbar", "color": "#333333", "thickness": 1.2, "ticks": {"size": 7, "thickness": 1.2}},
              "encoding": {
                "x": {"field": "xlo", "type": "quantitative", "axis": null},
                "x2": {"field": "xhi"},
                "y": {"field": "y", "type": "quantitative", "axis": null}
              }
            },
            {
              "mark": {"type": "errorbar", "color": "#333333", "thickness": 1.2, "ticks": {"size": 7, "thickness": 1.2}},
              "encoding": {
                "x": {"field": "x", "type": "quantitative", "axis": null},
                "y": {"field": "ylo", "type": "quantitative", "axis": null},
                "y2": {"field": "yhi"}
              }
            },
            {
              "mark": {"type": "point", "shape": "triangle-up", "filled": true, "color": "#ff0000", "size": 115, "opacity": 1},
              "encoding": {
                "x": {
                  "field": "x", "type": "quantitative",
                  "axis": {
                    "orient": "top", "offset": -262, "labels": false, "title": null,
                    "values": [0,100,200,300,400,500,600,700,800,900,1000,1100,1200,1300,1400,1500,1600,1700,1800,1900,2000,2100,2200,2300,2400,2500],
                    "tickSize": {"condition": {"test": "datum.value % 500 === 0", "value": -8}, "value": -4}
                  }
                },
                "y": {
                  "field": "y", "type": "quantitative",
                  "axis": {
                    "orient": "right", "offset": -25, "labels": false, "title": null,
                    "values": [0.8,0.82,0.84,0.86,0.88,0.9,0.92,0.94,0.96,0.98,1,1.02,1.04,1.06,1.08,1.1,1.12,1.14,1.16,1.18,1.2,1.22,1.24,1.26,1.28,1.3,1.32,1.34,1.36,1.38,1.4,1.42,1.44,1.46,1.48,1.5,1.52,1.54,1.56,1.58,1.6],
                    "tickSize": {"condition": {"test": "abs(datum.value * 10 - round(datum.value * 10)) < 0.001", "value": -10}, "value": -5}
                  }
                }
              }
            }
          ]
        }
      ]
    }
  ],
  "config": {
    "view": {"stroke": "#000000", "strokeWidth": 3},
    "axis": {
      "grid": false, "domainColor": "#000000", "domainWidth": 1, "tickColor": "#000000", "tickWidth": 1,
      "labelColor": "#000000", "titleColor": "#000000", "labelFlush": false, "labelOverlap": false, "zindex": 1
    }
  }
}
